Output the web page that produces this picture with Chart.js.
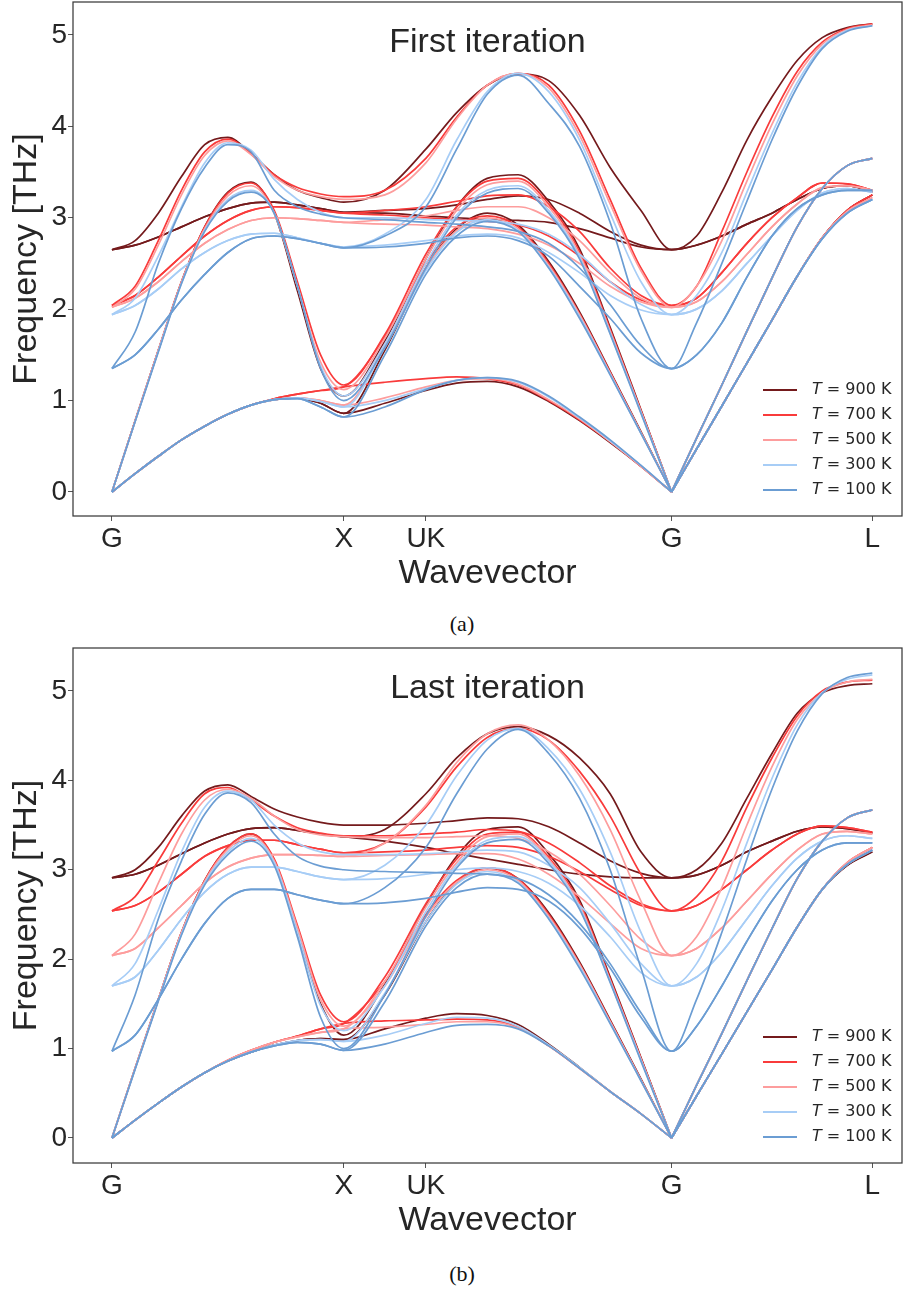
<!DOCTYPE html>
<html><head><meta charset="utf-8">
<script src="https://cdn.jsdelivr.net/npm/chart.js@4.4.1/dist/chart.umd.min.js"></script>
<style>
html,body{margin:0;padding:0;background:#fff;width:903px;height:1289px;overflow:hidden;}
#wrap{position:relative;width:903px;height:1289px;}
canvas{position:absolute;left:0;}
#cA{top:0;width:903px;height:600px;}
#cB{top:646px;width:903px;height:601px;}
.cap{position:absolute;transform:translateX(-50%);font-family:"Liberation Serif","DejaVu Serif",serif;font-size:22px;color:#111;white-space:nowrap;}
</style></head>
<body><div id="wrap">
<canvas id="cA" width="903" height="600"></canvas>
<div class="cap" style="left:462px;top:611px">(a)</div>
<canvas id="cB" width="903" height="601"></canvas>
<div class="cap" style="left:462px;top:1261px">(b)</div>
</div>
<script>
// ---------- axis data ----------
const wavevector = [0,0.1,0.2,0.3,0.4,0.5,0.6,0.7,0.8,0.9,1.0, 1.177,1.354,1.487,1.619,1.752,1.884,2.017,2.149,2.282,2.414, 2.522,2.631,2.739,2.847,2.956,3.064,3.172,3.280];
const tickPositions = [0, 1.0, 1.354, 2.414, 3.280];
const tickLabels = ['G', 'X', 'UK', 'G', 'L'];
const freqTicks = [0, 1, 2, 3, 4, 5];
const temperatures = [900, 700, 500, 300, 100];
const panelTitles = ['First iteration', 'Last iteration'];

// ---------- First iteration (THz) ----------
const first900_b1 = [0,0.20,0.39,0.57,0.72,0.85,0.95,1.01,1.03,0.97,0.86, 0.97,1.11,1.19,1.21,1.15,0.99,0.78,0.54,0.28,0, 0.47,0.94,1.41,1.88,2.36,2.78,3.08,3.25];
const first900_b2 = [0,0.20,0.39,0.57,0.72,0.85,0.95,1.01,1.03,0.97,0.86, 1.55,2.45,2.88,3.05,2.92,2.52,1.97,1.32,0.66,0, 0.47,0.94,1.41,1.88,2.36,2.78,3.08,3.25];
const first900_b3 = [0,0.78,1.55,2.30,2.90,3.28,3.39,3.05,2.20,1.35,1.05, 1.65,2.55,3.12,3.43,3.47,3.18,2.66,1.80,0.90,0, 0.59,1.17,1.76,2.34,2.90,3.32,3.57,3.65];
const first900_b4 = [2.65,2.70,2.79,2.90,3.01,3.10,3.16,3.17,3.14,3.10,3.06, 3.08,3.10,3.14,3.20,3.24,3.20,3.05,2.85,2.70,2.65, 2.70,2.80,2.93,3.05,3.20,3.32,3.35,3.28];
const first900_b5 = [2.65,2.70,2.79,2.90,3.01,3.10,3.16,3.17,3.14,3.10,3.06, 3.05,3.02,3.00,2.98,2.97,2.95,2.88,2.78,2.68,2.65, 2.70,2.80,2.93,3.05,3.20,3.32,3.35,3.28];
const first900_b6 = [2.65,2.75,3.05,3.45,3.80,3.88,3.70,3.47,3.30,3.22,3.17, 3.30,3.75,4.15,4.45,4.57,4.50,4.12,3.55,3.08,2.65, 2.80,3.28,3.85,4.32,4.72,4.97,5.08,5.12];

const first700_b1 = [0,0.20,0.39,0.57,0.72,0.85,0.95,1.02,1.07,1.11,1.15, 1.20,1.24,1.26,1.24,1.17,1.00,0.79,0.55,0.28,0, 0.47,0.94,1.41,1.88,2.36,2.78,3.08,3.25];
const first700_b2 = [0,0.20,0.39,0.57,0.72,0.85,0.95,1.02,1.07,1.11,1.15, 1.70,2.50,2.90,3.02,2.90,2.50,1.95,1.31,0.65,0, 0.47,0.94,1.41,1.88,2.36,2.78,3.08,3.25];
const first700_b3 = [0,0.78,1.55,2.30,2.90,3.27,3.38,3.08,2.30,1.50,1.17, 1.72,2.60,3.12,3.40,3.43,3.15,2.63,1.78,0.89,0, 0.59,1.17,1.76,2.34,2.90,3.32,3.57,3.65];
const first700_b4 = [2.04,2.15,2.35,2.58,2.80,2.97,3.08,3.12,3.11,3.08,3.05, 3.08,3.12,3.18,3.24,3.25,3.12,2.85,2.45,2.15,2.04, 2.12,2.40,2.72,3.00,3.22,3.38,3.37,3.30];
const first700_b5 = [2.04,2.15,2.35,2.58,2.80,2.97,3.08,3.12,3.11,3.08,3.05, 3.03,3.00,2.98,2.96,2.92,2.80,2.58,2.30,2.10,2.04, 2.12,2.40,2.72,3.00,3.22,3.38,3.37,3.30];
const first700_b6 = [2.04,2.25,2.75,3.30,3.72,3.86,3.70,3.47,3.33,3.26,3.23, 3.30,3.65,4.10,4.45,4.58,4.45,3.95,3.20,2.45,2.04, 2.25,2.85,3.50,4.10,4.60,4.92,5.07,5.12];

const first500_b1 = [0,0.20,0.39,0.57,0.72,0.85,0.95,1.01,1.03,1.00,0.95, 1.03,1.15,1.22,1.24,1.18,1.01,0.80,0.55,0.28,0, 0.47,0.94,1.41,1.88,2.36,2.78,3.07,3.22];
const first500_b2 = [0,0.20,0.39,0.57,0.72,0.85,0.95,1.01,1.03,1.00,0.95, 1.60,2.45,2.86,3.00,2.88,2.48,1.94,1.30,0.65,0, 0.47,0.94,1.41,1.88,2.36,2.78,3.07,3.22];
const first500_b3 = [0,0.78,1.55,2.30,2.88,3.24,3.35,3.05,2.25,1.42,1.12, 1.68,2.55,3.08,3.36,3.40,3.12,2.60,1.76,0.88,0, 0.59,1.17,1.76,2.34,2.90,3.32,3.57,3.65];
const first500_b4 = [2.02,2.12,2.30,2.52,2.72,2.87,2.97,3.00,2.99,2.97,2.95, 2.98,3.02,3.08,3.12,3.12,3.00,2.75,2.40,2.12,2.02, 2.08,2.30,2.60,2.90,3.15,3.33,3.35,3.30];
const first500_b5 = [2.02,2.12,2.30,2.52,2.72,2.87,2.97,3.00,2.99,2.97,2.95, 2.93,2.92,2.90,2.88,2.82,2.70,2.50,2.25,2.08,2.02, 2.08,2.30,2.60,2.90,3.15,3.33,3.35,3.30];
const first500_b6 = [2.02,2.22,2.70,3.25,3.68,3.84,3.69,3.45,3.30,3.23,3.20, 3.25,3.60,4.08,4.45,4.58,4.42,3.90,3.15,2.42,2.02, 2.25,2.75,3.40,4.02,4.55,4.90,5.06,5.11];

const first300_b1 = [0,0.20,0.39,0.57,0.72,0.85,0.95,1.01,1.03,0.99,0.93, 1.00,1.13,1.22,1.25,1.20,1.04,0.81,0.56,0.29,0, 0.47,0.94,1.41,1.88,2.36,2.77,3.05,3.20];
const first300_b2 = [0,0.20,0.39,0.57,0.72,0.85,0.95,1.01,1.03,0.99,0.93, 1.58,2.42,2.84,2.98,2.86,2.46,1.92,1.29,0.64,0, 0.47,0.94,1.41,1.88,2.36,2.77,3.05,3.20];
const first300_b3 = [0,0.77,1.54,2.28,2.86,3.20,3.30,3.05,2.25,1.38,1.05, 1.62,2.50,3.03,3.30,3.35,3.08,2.57,1.74,0.87,0, 0.59,1.17,1.76,2.34,2.90,3.32,3.57,3.65];
const first300_b4 = [1.94,2.04,2.22,2.44,2.62,2.75,2.82,2.83,2.78,2.72,2.68, 2.82,3.20,3.85,4.38,4.58,4.38,3.85,3.05,2.30,1.94, 2.00,2.20,2.50,2.80,3.08,3.27,3.32,3.28];
const first300_b5 = [1.94,2.04,2.22,2.44,2.62,2.75,2.82,2.83,2.78,2.72,2.68, 2.70,2.75,2.80,2.82,2.78,2.62,2.40,2.15,1.99,1.94, 2.00,2.20,2.50,2.80,3.08,3.27,3.32,3.28];
const first300_b6 = [1.94,2.12,2.58,3.12,3.60,3.82,3.74,3.42,3.20,3.06,3.00, 3.00,2.98,2.97,2.96,2.93,2.82,2.60,2.30,2.05,1.94, 2.15,2.62,3.28,3.92,4.48,4.87,5.05,5.10];

const first100_b1 = [0,0.20,0.39,0.57,0.72,0.85,0.95,1.01,1.02,0.93,0.82, 0.93,1.12,1.22,1.25,1.21,1.05,0.82,0.57,0.29,0, 0.47,0.94,1.41,1.88,2.36,2.77,3.05,3.20];
const first100_b2 = [0,0.20,0.39,0.57,0.72,0.85,0.95,1.01,1.02,0.93,0.82, 1.50,2.38,2.80,2.96,2.85,2.45,1.90,1.28,0.64,0, 0.47,0.94,1.41,1.88,2.36,2.77,3.05,3.20];
const first100_b3 = [0,0.77,1.53,2.28,2.85,3.18,3.28,3.05,2.25,1.35,1.00, 1.58,2.45,3.00,3.27,3.32,3.05,2.55,1.73,0.86,0, 0.59,1.17,1.76,2.34,2.90,3.32,3.57,3.65];
const first100_b4 = [1.35,1.50,1.78,2.10,2.38,2.62,2.77,2.80,2.77,2.72,2.67, 2.80,3.12,3.75,4.35,4.56,4.25,3.78,2.95,1.90,1.35, 1.50,1.85,2.35,2.80,3.10,3.25,3.30,3.30];
const first100_b5 = [1.35,1.50,1.78,2.10,2.38,2.62,2.77,2.80,2.77,2.72,2.67, 2.68,2.72,2.78,2.80,2.75,2.58,2.25,1.90,1.52,1.35, 1.50,1.85,2.35,2.80,3.10,3.25,3.30,3.30];
const first100_b6 = [1.35,1.75,2.50,3.10,3.55,3.80,3.72,3.30,3.12,3.04,3.00, 2.98,2.95,2.93,2.90,2.85,2.72,2.45,2.05,1.60,1.35, 1.85,2.50,3.18,3.85,4.43,4.85,5.04,5.10];

// ---------- Last iteration (THz) ----------
const last900_b1 = [0,0.20,0.39,0.57,0.73,0.86,0.96,1.04,1.09,1.11,1.10, 1.22,1.34,1.39,1.37,1.27,1.05,0.79,0.52,0.27,0, 0.47,0.94,1.41,1.88,2.36,2.78,3.05,3.20];
const last900_b2 = [0,0.20,0.39,0.57,0.73,0.86,0.96,1.04,1.09,1.11,1.10, 1.60,2.42,2.85,3.02,2.90,2.52,1.97,1.32,0.66,0, 0.47,0.94,1.41,1.88,2.36,2.78,3.05,3.20];
const last900_b3 = [0,0.78,1.55,2.30,2.88,3.25,3.40,3.10,2.30,1.50,1.15, 1.72,2.60,3.15,3.45,3.48,3.18,2.66,1.80,0.90,0, 0.59,1.17,1.76,2.34,2.90,3.32,3.58,3.67];
const last900_b4 = [2.91,2.95,3.05,3.18,3.30,3.40,3.46,3.47,3.44,3.40,3.37, 3.32,3.25,3.18,3.12,3.06,3.00,2.95,2.92,2.91,2.91, 2.94,3.05,3.20,3.32,3.43,3.48,3.46,3.41];
const last900_b5 = [2.91,2.95,3.05,3.18,3.30,3.40,3.46,3.47,3.44,3.40,3.37, 3.45,3.85,4.25,4.52,4.60,4.50,4.25,3.85,3.20,2.91, 2.94,3.05,3.20,3.32,3.43,3.48,3.46,3.41];
const last900_b6 = [2.91,3.00,3.25,3.60,3.88,3.95,3.82,3.68,3.59,3.53,3.50, 3.50,3.52,3.55,3.58,3.57,3.48,3.30,3.10,2.96,2.91, 3.00,3.30,3.80,4.30,4.75,4.98,5.06,5.08];

const last700_b1 = [0,0.20,0.39,0.57,0.73,0.87,0.98,1.07,1.14,1.22,1.28, 1.31,1.32,1.33,1.32,1.24,1.03,0.78,0.52,0.27,0, 0.47,0.94,1.41,1.88,2.36,2.78,3.08,3.25];
const last700_b2 = [0,0.20,0.39,0.57,0.73,0.87,0.98,1.07,1.14,1.22,1.28, 1.75,2.50,2.88,3.02,2.90,2.50,1.95,1.31,0.65,0, 0.47,0.94,1.41,1.88,2.36,2.78,3.08,3.25];
const last700_b3 = [0,0.78,1.55,2.30,2.88,3.25,3.40,3.12,2.38,1.60,1.30, 1.80,2.62,3.12,3.40,3.42,3.14,2.63,1.78,0.89,0, 0.59,1.17,1.76,2.34,2.90,3.32,3.58,3.67];
const last700_b4 = [2.54,2.60,2.75,2.95,3.15,3.27,3.33,3.33,3.28,3.23,3.19, 3.20,3.22,3.25,3.27,3.25,3.15,2.98,2.78,2.60,2.54, 2.60,2.78,3.00,3.22,3.40,3.49,3.47,3.42];
const last700_b5 = [2.54,2.60,2.75,2.95,3.15,3.27,3.33,3.33,3.28,3.23,3.19, 3.30,3.70,4.15,4.48,4.58,4.45,4.10,3.60,2.95,2.54, 2.60,2.78,3.00,3.22,3.40,3.49,3.47,3.42];
const last700_b6 = [2.54,2.70,3.10,3.52,3.85,3.92,3.78,3.60,3.47,3.41,3.38, 3.38,3.40,3.42,3.45,3.43,3.30,3.08,2.82,2.62,2.54, 2.70,3.10,3.70,4.25,4.72,5.00,5.10,5.12];

const last500_b1 = [0,0.20,0.39,0.57,0.73,0.87,0.98,1.07,1.13,1.18,1.22, 1.24,1.27,1.30,1.30,1.23,1.03,0.78,0.52,0.27,0, 0.47,0.94,1.41,1.88,2.36,2.78,3.08,3.25];
const last500_b2 = [0,0.20,0.39,0.57,0.73,0.87,0.98,1.07,1.13,1.18,1.22, 1.70,2.47,2.86,3.00,2.88,2.48,1.94,1.30,0.65,0, 0.47,0.94,1.41,1.88,2.36,2.78,3.08,3.25];
const last500_b3 = [0,0.78,1.55,2.30,2.87,3.23,3.38,3.10,2.35,1.55,1.25, 1.75,2.58,3.08,3.37,3.40,3.12,2.60,1.76,0.88,0, 0.59,1.17,1.76,2.34,2.90,3.32,3.58,3.67];
const last500_b4 = [2.04,2.12,2.35,2.60,2.85,3.03,3.13,3.17,3.17,3.16,3.15, 3.16,3.17,3.18,3.18,3.12,2.95,2.70,2.40,2.12,2.04, 2.12,2.35,2.65,2.95,3.22,3.40,3.43,3.40];
const last500_b5 = [2.04,2.12,2.35,2.60,2.85,3.03,3.13,3.17,3.17,3.16,3.15, 3.30,3.72,4.20,4.52,4.62,4.45,4.05,3.45,2.65,2.04, 2.12,2.35,2.65,2.95,3.22,3.40,3.43,3.40];
const last500_b6 = [2.04,2.28,2.85,3.40,3.78,3.90,3.80,3.60,3.45,3.39,3.37, 3.36,3.36,3.37,3.38,3.35,3.20,2.95,2.60,2.22,2.04, 2.25,2.80,3.50,4.15,4.68,4.98,5.10,5.13];

const last300_b1 = [0,0.20,0.39,0.57,0.73,0.86,0.96,1.04,1.09,1.10,1.08, 1.15,1.28,1.35,1.34,1.25,1.04,0.79,0.52,0.27,0, 0.47,0.94,1.41,1.88,2.36,2.78,3.06,3.22];
const last300_b2 = [0,0.20,0.39,0.57,0.73,0.86,0.96,1.04,1.09,1.10,1.08, 1.62,2.42,2.84,2.98,2.86,2.46,1.92,1.29,0.64,0, 0.47,0.94,1.41,1.88,2.36,2.78,3.06,3.22];
const last300_b3 = [0,0.77,1.54,2.28,2.85,3.20,3.35,3.08,2.30,1.48,1.20, 1.70,2.53,3.05,3.33,3.37,3.10,2.58,1.75,0.87,0, 0.59,1.17,1.76,2.34,2.90,3.32,3.58,3.67];
const last300_b4 = [1.70,1.80,2.10,2.45,2.75,2.95,3.03,3.03,2.98,2.92,2.89, 2.90,2.95,3.00,3.02,2.98,2.85,2.60,2.25,1.85,1.70, 1.80,2.08,2.45,2.82,3.13,3.32,3.38,3.35];
const last300_b5 = [1.70,1.80,2.10,2.45,2.75,2.95,3.03,3.03,2.98,2.92,2.89, 3.05,3.50,4.05,4.45,4.58,4.35,3.90,3.20,2.30,1.70, 1.80,2.08,2.45,2.82,3.13,3.32,3.38,3.35];
const last300_b6 = [1.70,1.95,2.55,3.20,3.70,3.88,3.78,3.50,3.30,3.20,3.17, 3.17,3.18,3.20,3.22,3.20,3.05,2.80,2.40,1.95,1.70, 1.95,2.55,3.30,4.02,4.62,4.98,5.13,5.18];

const last100_b1 = [0,0.20,0.39,0.57,0.73,0.86,0.96,1.03,1.07,1.05,0.98, 1.05,1.18,1.26,1.27,1.22,1.03,0.78,0.52,0.27,0, 0.47,0.94,1.41,1.88,2.36,2.78,3.06,3.22];
const last100_b2 = [0,0.20,0.39,0.57,0.73,0.86,0.96,1.03,1.07,1.05,0.98, 1.52,2.37,2.80,2.95,2.85,2.45,1.90,1.28,0.64,0, 0.47,0.94,1.41,1.88,2.36,2.78,3.06,3.22];
const last100_b3 = [0,0.77,1.53,2.27,2.83,3.17,3.32,3.05,2.25,1.35,1.00, 1.60,2.48,3.02,3.30,3.34,3.07,2.56,1.74,0.86,0, 0.59,1.17,1.76,2.34,2.90,3.32,3.58,3.67];
const last100_b4 = [0.97,1.15,1.55,2.00,2.40,2.68,2.78,2.78,2.72,2.66,2.62, 2.63,2.68,2.75,2.80,2.78,2.65,2.35,1.90,1.35,0.97, 1.25,1.70,2.20,2.65,3.00,3.22,3.30,3.30];
const last100_b5 = [0.97,1.15,1.55,2.00,2.40,2.68,2.78,2.78,2.72,2.66,2.62, 2.80,3.25,3.85,4.35,4.57,4.30,3.80,3.00,1.90,0.97, 1.25,1.70,2.20,2.65,3.00,3.22,3.30,3.30];
const last100_b6 = [0.97,1.60,2.45,3.10,3.62,3.86,3.75,3.40,3.15,3.04,3.00, 2.98,2.97,2.96,2.95,2.90,2.72,2.40,1.95,1.40,0.97, 1.55,2.30,3.12,3.90,4.55,4.97,5.15,5.20];

// ---------- styling ----------
const tempColors = ['#741a1c', '#f93b3b', '#fd9d9d', '#a7cdf6', '#6b9dd3'];
const FONT = '"Liberation Sans", Arial, Helvetica, sans-serif';
const TEXT = '#262626';
const G_INDEX = 20;

const firstBands = [
  [first900_b1, first900_b2, first900_b3, first900_b4, first900_b5, first900_b6],
  [first700_b1, first700_b2, first700_b3, first700_b4, first700_b5, first700_b6],
  [first500_b1, first500_b2, first500_b3, first500_b4, first500_b5, first500_b6],
  [first300_b1, first300_b2, first300_b3, first300_b4, first300_b5, first300_b6],
  [first100_b1, first100_b2, first100_b3, first100_b4, first100_b5, first100_b6]
];
const lastBands = [
  [last900_b1, last900_b2, last900_b3, last900_b4, last900_b5, last900_b6],
  [last700_b1, last700_b2, last700_b3, last700_b4, last700_b5, last700_b6],
  [last500_b1, last500_b2, last500_b3, last500_b4, last500_b5, last500_b6],
  [last300_b1, last300_b2, last300_b3, last300_b4, last300_b5, last300_b6],
  [last100_b1, last100_b2, last100_b3, last100_b4, last100_b5, last100_b6]
];

function makeDatasets(bandSets) {
  const ds = [];
  bandSets.forEach((bands, ti) => {
    bands.forEach((vals, bi) => {
      const acoustic = bi < 3;
      const pts = [];
      vals.forEach((v, i) => {
        pts.push({x: wavevector[i], y: v});
        if (acoustic && i === G_INDEX) {
          pts.push({x: wavevector[i], y: null});
          pts.push({x: wavevector[i], y: v});
        }
      });
      ds.push({
        label: 'T = ' + temperatures[ti] + ' K',
        data: pts,
        borderColor: tempColors[ti],
        backgroundColor: tempColors[ti],
        borderWidth: 1.7,
        pointRadius: 0,
        fill: false,
        spanGaps: false,
        cubicInterpolationMode: 'monotone',
        order: 4 - ti
      });
    });
  });
  return ds;
}

const overlay = {
  id: 'overlay',
  afterDatasetsDraw(chart, args, opts) {
    const {ctx, chartArea: a} = chart;
    ctx.save();
    ctx.strokeStyle = '#3a3a3a';
    ctx.lineWidth = 1.25;
    ctx.strokeRect(a.left, a.top, a.right - a.left, a.bottom - a.top);
    ctx.fillStyle = TEXT;
    ctx.font = '34px ' + FONT;
    ctx.textAlign = 'center';
    ctx.textBaseline = 'alphabetic';
    ctx.fillText(opts.title, (a.left + a.right) / 2, a.top + 50);
    temperatures.forEach((t, i) => {
      const y = a.bottom - 126 + i * 25;
      ctx.strokeStyle = tempColors[i];
      ctx.lineWidth = 2;
      ctx.beginPath(); ctx.moveTo(763, y); ctx.lineTo(797, y); ctx.stroke();
      ctx.textAlign = 'left';
      ctx.textBaseline = 'middle';
      ctx.fillStyle = TEXT;
      ctx.font = 'italic 16px "DejaVu Sans", sans-serif';
      ctx.fillText('T', 812, y);
      const w = ctx.measureText('T').width;
      ctx.font = '16px "DejaVu Sans", sans-serif';
      ctx.fillText(' = ' + t + ' K', 812 + w, y);
    });
    ctx.restore();
  }
};

function makeChart(id, bands, title, ymin, ymax) {
  return new Chart(document.getElementById(id), {
    type: 'line',
    data: { datasets: makeDatasets(bands) },
    options: {
      responsive: false,
      animation: false,
      events: [],
      layout: { padding: { top: 2, right: 1, left: 0, bottom: 0 } },
      plugins: { legend: { display: false }, tooltip: { enabled: false }, overlay: { title: title } },
      scales: {
        x: {
          type: 'linear', min: -0.168, max: 3.408,
          afterBuildTicks: s => { s.ticks = tickPositions.map(v => ({ value: v })); },
          afterFit: s => { s.height = 84; s.paddingLeft = 0; s.paddingRight = 0; },
          ticks: { autoSkip: false, maxRotation: 0, padding: 1, color: TEXT,
                   font: { family: FONT, size: 28 },
                   callback: (v, i) => tickLabels[i] },
          grid: { display: true, drawOnChartArea: false, drawTicks: true, tickLength: 5, color: '#555', lineWidth: 1 },
          border: { display: false },
          title: { display: true, text: 'Wavevector', color: TEXT, font: { family: FONT, size: 34 }, padding: { top: 0, bottom: 6 } }
        },
        y: {
          type: 'linear', min: ymin, max: ymax,
          afterBuildTicks: s => { s.ticks = freqTicks.map(v => ({ value: v })); },
          afterFit: s => { s.width = 73; s.paddingTop = 0; s.paddingBottom = 0; },
          ticks: { padding: 1, color: TEXT, font: { family: FONT, size: 28 } },
          grid: { display: true, drawOnChartArea: false, drawTicks: true, tickLength: 5, color: '#555', lineWidth: 1 },
          border: { display: false },
          title: { display: true, text: 'Frequency [THz]', color: TEXT, font: { family: FONT, size: 34 }, padding: { top: 6, bottom: 0 } }
        }
      }
    },
    plugins: [overlay]
  });
}

makeChart('cA', firstBands, panelTitles[0], -0.263, 5.36);
makeChart('cB', lastBands, panelTitles[1], -0.28, 5.48);
</script>
</body></html>
